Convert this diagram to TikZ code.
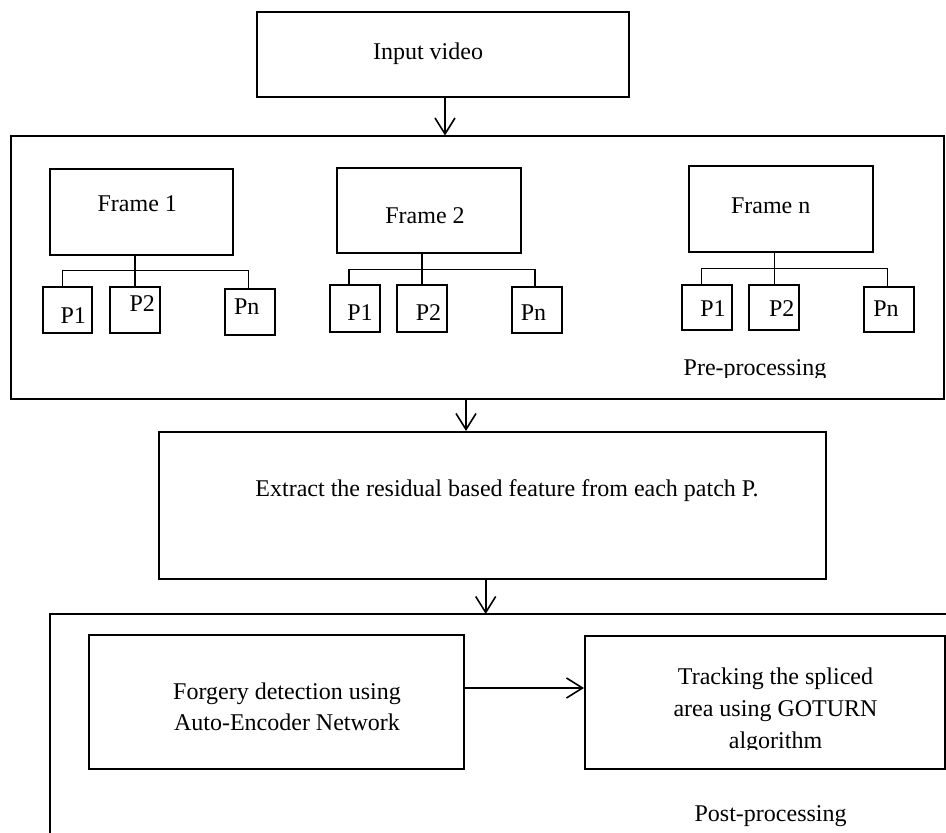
\documentclass[tikz,border=0pt]{standalone}
\usepackage{fontspec}
\setmainfont{Liberation Serif}
\usetikzlibrary{arrows.meta,fit}
\begin{document}
\begin{tikzpicture}[x=0.5pt,y=-0.5pt,
  box/.style={draw,line width=1pt,inner sep=0pt},
  conn/.style={line width=0.7pt},
  arr/.style={line width=0.8pt,-{Straight Barb[length=8pt,width=10pt]}},
  lbl/.style={inner sep=0pt,align=center,font=\fontsize{12}{15.5}\selectfont,text height=1.6ex,text depth=0.25ex,yshift=-1pt},
  mlbl/.style={inner sep=0pt,align=center,font=\fontsize{12}{15.5}\selectfont}]
\useasboundingbox (0,0) rectangle (946,833);

% main boxes
\node[box,fit={(256.5,11.7) (629,97)}] (inp) {};
\node[box,fit={(11,136.5) (943.5,399)}] (pre) {};
\node[box,fit={(159,432) (826,579)}] (ext) {};
\node[box,fit={(88.7,635) (463.5,769)}] (forg) {};
\node[box,fit={(585,636) (945,769)}] (trk) {};
% post-processing frame (open to the right and bottom)
\coordinate (postTL) at (50,614);
\coordinate (postBL) at (50,833);
\coordinate (postTR) at (946,614);
\draw[line width=1pt] (postBL) -- (postTL) -- (postTR);

% frames
\node[box,fit={(50,169) (233.3,255)}] (f1) {};
\node[box,fit={(337,168) (521,253)}] (f2) {};
\node[box,fit={(689,166) (873.3,251.7)}] (fn) {};

% patches frame 1
\node[box,fit={(42.7,287) (92.3,333)}] (p11) {};
\node[box,fit={(110,287) (160,333)}] (p12) {};
\node[box,fit={(225,288.7) (275,334.7)}] (p1n) {};
% patches frame 2
\node[box,fit={(330,285) (380,332)}] (p21) {};
\node[box,fit={(396.5,285) (447,332)}] (p22) {};
\node[box,fit={(512,287) (562,333)}] (p2n) {};
% patches frame n
\node[box,fit={(682.3,285) (732.3,330)}] (pn1) {};
\node[box,fit={(749.3,285) (799.3,330)}] (pn2) {};
\node[box,fit={(864.3,286.7) (914.3,331.7)}] (pnn) {};

% bus connectors
\coordinate (b1) at (135,270.7);
\coordinate (b1l) at (62.3,270.7);
\coordinate (b1r) at (248.3,270.7);
\draw[conn] (b1 |- f1.south) -- (b1 |- p12.north);
\draw[conn] (b1l |- p11.north) -- (b1l) -- (b1r) -- (b1r |- p1n.north);

\coordinate (b2) at (422,269.3);
\coordinate (b2l) at (349,269.3);
\coordinate (b2r) at (535,269.3);
\draw[conn] (b2 |- f2.south) -- (b2 |- p22.north);
\draw[conn] (b2l |- p21.north) -- (b2l) -- (b2r) -- (b2r |- p2n.north);

\coordinate (bn) at (774.3,268.3);
\coordinate (bnl) at (701.7,268.3);
\coordinate (bnr) at (887.7,268.3);
\draw[conn] (bn |- fn.south) -- (bn |- pn2.north);
\draw[conn] (bnl |- pn1.north) -- (bnl) -- (bnr) -- (bnr |- pnn.north);

% arrows
\coordinate (a1) at (445,0);
\coordinate (a2) at (466,0);
\coordinate (a3) at (485.7,0);
\coordinate (a4) at (0,688);
\draw[arr] (inp.south -| a1) -- (pre.north -| a1);
\draw[arr] (pre.south -| a2) -- (ext.north -| a2);
\draw[arr] (ext.south -| a3) -- (postTL -| a3);
\draw[arr] (forg.east |- a4) -- (trk.west |- a4);

% labels
\node[lbl] (tinp) at (428,51) {Input video};
\node[lbl] (tf1) at (137.3,203.3) {Frame 1};
\node[lbl] (tf2) at (425,215) {Frame 2};
\node[lbl] (tfn) at (770.7,205) {Frame n};
\node[lbl] (t11) at (73.3,315) {P1};
\node[lbl] (t12) at (142.3,303.3) {P2};
\node[lbl] (t1n) at (246.7,306.7) {Pn};
\node[lbl] (t21) at (360,312) {P1};
\node[lbl] (t22) at (428.5,312) {P2};
\node[lbl] (t2n) at (533.5,312.5) {Pn};
\node[lbl] (tn1) at (713,308) {P1};
\node[lbl] (tn2) at (781.7,308) {P2};
\node[lbl] (tnn) at (886,308) {Pn};
\begin{scope}
\clip (600,340) rectangle (930,378);
\node[lbl] (tpre) at (755,367) {Pre-processing};
\end{scope}
\node[lbl] (text) at (507,488) {Extract the residual based feature from each patch P.};
\node[mlbl] (tforg) at (287,707) {Forgery detection using\\Auto-Encoder Network};
\begin{scope}
\clip (600,645) rectangle (940,749);
\node[mlbl,font=\fontsize{12}{16}\selectfont] (ttrk) at (775.5,710.5) {Tracking the spliced\\area using GOTURN\\algorithm};
\end{scope}
\node[lbl] (tpost) at (770.6,813) {Post-processing};
\end{tikzpicture}
\end{document}
